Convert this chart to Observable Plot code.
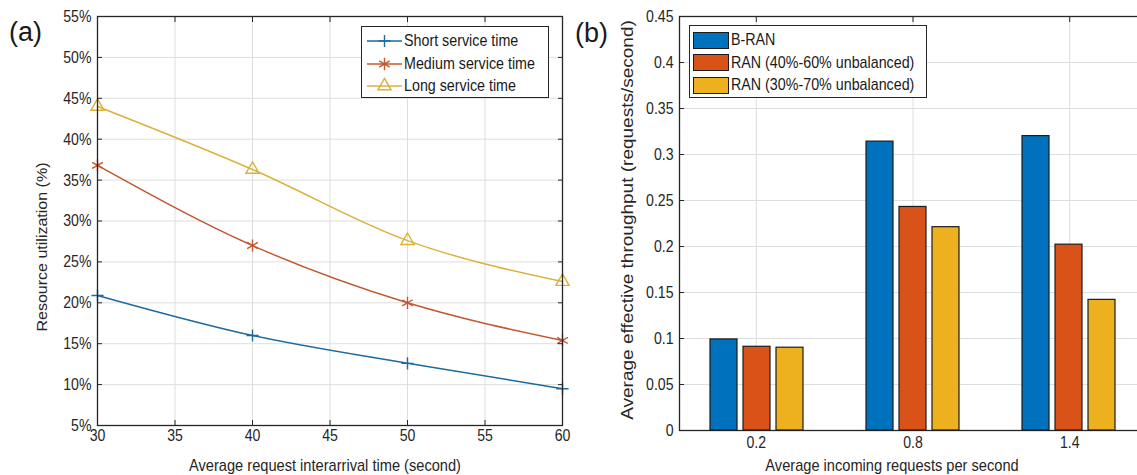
<!DOCTYPE html>
<html>
<head>
<meta charset="utf-8">
<script src="https://cdn.jsdelivr.net/npm/d3@7"></script>
<script src="https://cdn.jsdelivr.net/npm/@observablehq/plot@0.6"></script>
<style>
  html, body { margin: 0; padding: 0; overflow: hidden; background: #fff; }
  #wrap { position: relative; width: 1137px; height: 475px; overflow: hidden; background: #fff;
          font-family: "Liberation Sans", Arial, sans-serif; color: #262626; }
  .abs { position: absolute; }
  #pa, #pb, #pbBars { width: 580px; height: 475px; }
  #wrap svg { max-width: none !important; }
  .panel-tag { font-size: 27px; color: #1a1a1a; line-height: 1; }
  .title { white-space: nowrap; line-height: 1; color: #262626; }
  .legend { background: #fff; border: 1.5px solid #262626; box-sizing: border-box; }
  .legend .row { position: absolute; left: 0; height: 22px; display: flex; align-items: center; font-size: 17px; white-space: nowrap; color: #1a1a1a; }
  .legend .row span { display: inline-block; transform: scaleX(0.84); transform-origin: 0 50%; }
  .legend svg { display: block; }
</style>
</head>
<body>
<div id="wrap">
  <div id="pa" class="abs" style="left:0;top:0"></div>
  <div id="pb" class="abs" style="left:580px;top:0"></div>
  <div id="pbBars" class="abs" style="left:580px;top:0"></div>
</div>
<script>
// ---------------- Panel (a) data ----------------
const interarrival = [30, 40, 50, 60];
const shortService = [20.9, 16.0, 12.6, 9.5];
const mediumService = [36.8, 27.0, 20.0, 15.4];
const longService = [44.0, 36.3, 27.6, 22.6];
const seriesA = ["Short service time", "Medium service time", "Long service time"];
const xTicksA = [30, 35, 40, 45, 50, 55, 60];
const yTicksA = [5, 10, 15, 20, 25, 30, 35, 40, 45, 50, 55];
const xTitleA = "Average request interarrival time (second)";
const yTitleA = "Resource utilization (%)";

// ---------------- Panel (b) data ----------------
const arrivalRates = [0.2, 0.8, 1.4];
const bRan = [0.099, 0.314, 0.320];
const ran4060 = [0.091, 0.243, 0.202];
const ran3070 = [0.090, 0.221, 0.142];
const seriesB = ["B-RAN", "RAN (40%-60% unbalanced)", "RAN (30%-70% unbalanced)"];
const yTicksB = [0, 0.05, 0.1, 0.15, 0.2, 0.25, 0.3, 0.35, 0.4, 0.45];
const xTitleB = "Average incoming requests per second";
const yTitleB = "Average effective throughput (requests/second)";

// ---------------- styles ----------------
const FONT = '"Liberation Sans", Arial, sans-serif';
const GRID = "#dedede";
const FRAME = "#262626";
const lineColors = ["#1d6a9e", "#c0582f", "#dbb13a"];
const symbolsA = ["plus", "asterisk", "triangle2"];
const markerR = [4.0, 5.8, 6.3];
const barColors = ["#0072BD", "#D95319", "#EDB120"];

const tableA = interarrival.flatMap((t, i) => [
  {t, series: seriesA[0], value: shortService[i]},
  {t, series: seriesA[1], value: mediumService[i]},
  {t, series: seriesA[2], value: longService[i]}
]);
const tableB = arrivalRates.flatMap((rate, i) => [
  {rate, series: seriesB[0], value: bRan[i]},
  {rate, series: seriesB[1], value: ran4060[i]},
  {rate, series: seriesB[2], value: ran3070[i]}
]);

const baseStyle = {fontFamily: FONT, fontSize: "17px", color: "#262626", background: "transparent"};

// narrow the tick labels horizontally about their anchor (the reference figure is horizontally squeezed)
function condense(svg, k) {
  svg.querySelectorAll("text").forEach(t => {
    const xa = t.getAttribute("x");
    const x = xa && /^-?[\d.]+$/.test(xa) ? +xa : 0;
    const tr = t.getAttribute("transform") || "";
    t.setAttribute("transform", `${tr} translate(${x},0) scale(${k},1) translate(${-x},0)`.trim());
  });
  return svg;
}

// ---------------- Plot (a) ----------------
const plotA = Plot.plot({
  width: 580, height: 475,
  marginTop: 16, marginLeft: 97, marginRight: 18, marginBottom: 50,
  style: baseStyle,
  x: {domain: [30, 60]},
  y: {domain: [5, 55]},
  color: {domain: seriesA, range: lineColors},
  symbol: {domain: seriesA, range: symbolsA},
  marks: [
    Plot.gridX(xTicksA, {stroke: GRID, strokeOpacity: 1}),
    Plot.gridY(yTicksA, {stroke: GRID, strokeOpacity: 1}),
    Plot.line(tableA, {x: "t", y: "value", z: "series", stroke: "series", strokeWidth: 1.5, curve: "monotone-x"}),
    ...seriesA.map((s, k) => Plot.dot(tableA.filter(d => d.series === s),
      {x: "t", y: "value", stroke: "series", symbol: "series", fill: "none", r: markerR[k], strokeWidth: 1.4})),
    Plot.frame({stroke: FRAME, strokeWidth: 1.3}),
    Plot.axisX(xTicksA, {anchor: "bottom", tickSize: -5, tickPadding: 8, stroke: FRAME, label: null}),
    Plot.axisX(xTicksA, {anchor: "top", tickSize: -5, tickFormat: () => "", stroke: FRAME, label: null}),
    Plot.axisY(yTicksA, {anchor: "left", tickSize: -5, tickPadding: 11, stroke: FRAME, tickFormat: d => d + "%", label: null}),
    Plot.axisY(yTicksA, {anchor: "right", tickSize: -5, tickFormat: () => "", stroke: FRAME, label: null})
  ]
});
document.getElementById("pa").appendChild(condense(plotA, 0.83));

// ---------------- Plot (b): axes + grid ----------------
const fmtB = d => String(+d.toFixed(2));
const plotB = Plot.plot({
  width: 580, height: 475,
  marginTop: 16, marginLeft: 99, marginRight: 14, marginBottom: 45,
  style: baseStyle,
  x: {domain: [-0.094, 1.694]},
  y: {domain: [0, 0.45]},
  marks: [
    Plot.gridX(arrivalRates, {stroke: GRID, strokeOpacity: 1}),
    Plot.gridY(yTicksB, {stroke: GRID, strokeOpacity: 1}),
    Plot.frame({stroke: FRAME, strokeWidth: 1.3}),
    Plot.axisX(arrivalRates, {anchor: "bottom", tickSize: -5, tickPadding: 10, stroke: FRAME, tickFormat: d => d.toFixed(1), label: null}),
    Plot.axisX(arrivalRates, {anchor: "top", tickSize: -5, tickFormat: () => "", stroke: FRAME, label: null}),
    Plot.axisY(yTicksB, {anchor: "left", tickSize: -5, tickPadding: 11, stroke: FRAME, tickFormat: fmtB, label: null}),
    Plot.axisY(yTicksB, {anchor: "right", tickSize: -5, tickFormat: () => "", stroke: FRAME, label: null})
  ]
});
document.getElementById("pb").appendChild(condense(plotB, 0.83));

// ---------------- Plot (b): grouped bars (overlay, same frame) ----------------
const barsB = Plot.plot({
  width: 580, height: 475,
  marginTop: 16, marginLeft: 99, marginRight: 14, marginBottom: 45,
  style: {background: "transparent"},
  fx: {domain: arrivalRates, paddingInner: 0.35, paddingOuter: 0.166, axis: null, label: null},
  x: {domain: seriesB, paddingInner: 0.18, paddingOuter: 0.09, axis: null},
  y: {domain: [0, 0.45], axis: null},
  color: {domain: seriesB, range: barColors},
  marks: [
    Plot.barY(tableB, {fx: "rate", x: "series", y: "value", fill: "series", stroke: "#1c1c1c", strokeWidth: 1.2})
  ]
});
document.getElementById("pbBars").appendChild(barsB);

// ---------------- text: tags, axis titles ----------------
const wrap = document.getElementById("wrap");
function addText(txt, cls, css) {
  const el = document.createElement("div");
  el.className = "abs " + cls;
  el.textContent = txt;
  Object.assign(el.style, css);
  wrap.appendChild(el);
  return el;
}
addText("(a)", "panel-tag", {left: "9px", top: "19px"});
addText("(b)", "panel-tag", {left: "575px", top: "20px"});
addText(xTitleA, "title", {left: "325px", top: "465px", fontSize: "17px", transform: "translate(-50%,-50%) scaleX(0.86)"});
addText(xTitleB, "title", {left: "892px", top: "465px", fontSize: "17px", transform: "translate(-50%,-50%) scaleX(0.86)"});
addText(yTitleA, "title", {left: "42px", top: "247px", fontSize: "16px", transform: "translate(-50%,-50%) rotate(-90deg) scaleY(0.9)"});
addText(yTitleB, "title", {left: "627px", top: "220px", fontSize: "19px", transform: "translate(-50%,-50%) rotate(-90deg) scaleY(0.85)"});

// ---------------- legends ----------------
function legendBox(left, top, w, h) {
  const box = document.createElement("div");
  box.className = "abs legend";
  Object.assign(box.style, {left: left + "px", top: top + "px", width: w + "px", height: h + "px"});
  wrap.appendChild(box);
  return box;
}
const symMap = {plus: d3.symbolPlus, asterisk: d3.symbolAsterisk, triangle2: d3.symbolTriangle2};
const legA = legendBox(361, 26, 188, 72);
seriesA.forEach((s, k) => {
  const row = document.createElement("div");
  row.className = "row";
  row.style.top = (3 + k * 22.5) + "px";
  row.style.left = "4px";
  const svg = d3.create("svg").attr("width", 37).attr("height", 22);
  svg.append("line").attr("x1", 1).attr("x2", 36).attr("y1", 11).attr("y2", 11)
    .attr("stroke", lineColors[k]).attr("stroke-width", 1.5);
  svg.append("path").attr("transform", "translate(18.5,11)")
    .attr("d", d3.symbol(symMap[symbolsA[k]], Math.PI * markerR[k] * markerR[k])())
    .attr("fill", "none").attr("stroke", lineColors[k]).attr("stroke-width", 1.4);
  row.appendChild(svg.node());
  const t = document.createElement("span");
  t.textContent = s;
  t.style.marginLeft = "1px";
  row.appendChild(t);
  legA.appendChild(row);
});
const legB = legendBox(689, 25, 238, 73);
seriesB.forEach((s, k) => {
  const row = document.createElement("div");
  row.className = "row";
  row.style.top = (3 + k * 22.5) + "px";
  row.style.left = "3px";
  const sw = document.createElement("div");
  Object.assign(sw.style, {width: "36px", height: "17px", background: barColors[k], border: "1.2px solid #1c1c1c", boxSizing: "border-box"});
  row.appendChild(sw);
  const t = document.createElement("span");
  t.textContent = s;
  t.style.marginLeft = "2px";
  row.appendChild(t);
  legB.appendChild(row);
});
</script>
</body>
</html>
